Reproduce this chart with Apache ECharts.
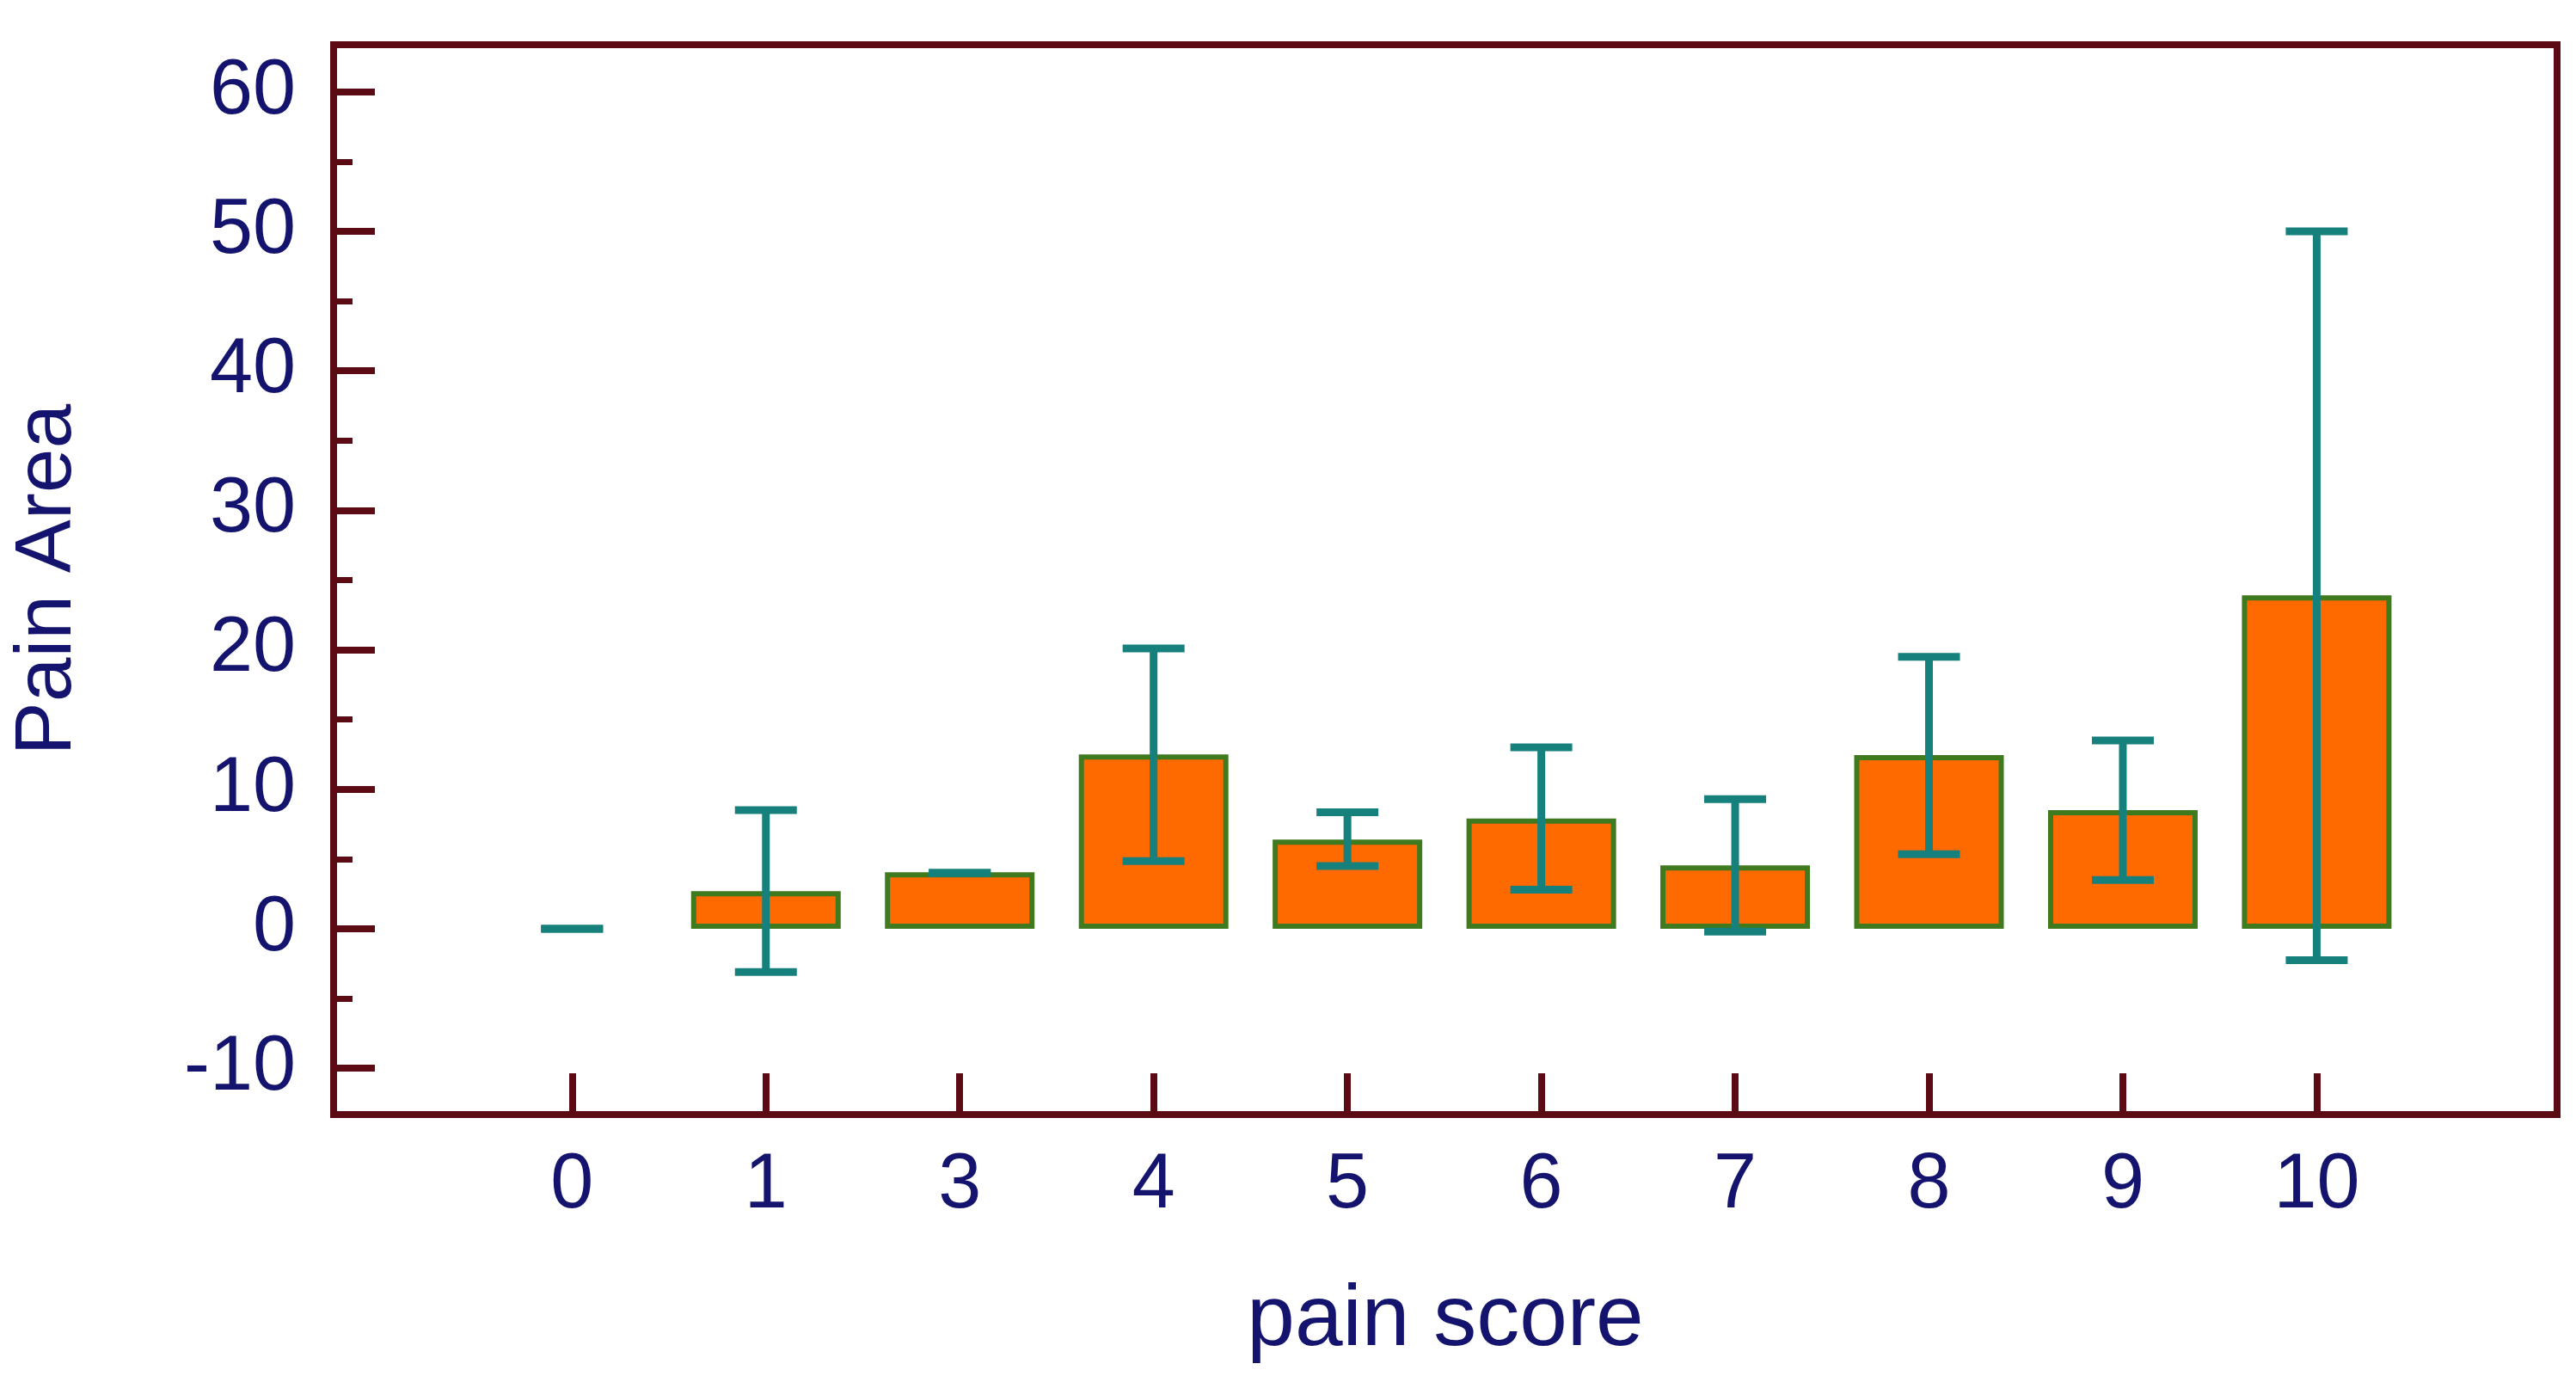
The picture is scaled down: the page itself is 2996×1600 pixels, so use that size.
<!DOCTYPE html>
<html>
<head>
<meta charset="utf-8">
<script src="https://cdn.jsdelivr.net/npm/echarts@6/dist/echarts.min.js"></script>
<style>
html,body{margin:0;padding:0;background:#fff;}
#chart{width:2996px;height:1600px;}
</style>
</head>
<body>
<div id="chart"></div>
<script>
// Data
var categories = ['0', '1', '3', '4', '5', '6', '7', '8', '9', '10'];
var meanValues = [0, 2.7, 4.05, 12.5, 6.4, 7.9, 4.55, 12.45, 8.5, 23.9];
var lowerValues = [0, -3.1, 4.0, 4.85, 4.5, 2.8, -0.2, 5.35, 3.5, -2.25];
var upperValues = [0, 8.5, 4.0, 20.1, 8.35, 13.0, 9.3, 19.5, 13.5, 50.0];
var yMajorTicks = [-10, 0, 10, 20, 30, 40, 50, 60];
var yMinorTicks = [-5, 5, 15, 25, 35, 45, 55];

var axisColor = '#5c0a14';
var textColor = '#14146e';
var fontFamily = 'Liberation Sans, Arial, sans-serif';

var idx = categories.map(function (c, i) { return i; });

var barData = meanValues.map(function (v, i) {
  var item = { value: [i, v] };
  if (v === 0) { item.itemStyle = { borderWidth: 0 }; }
  return item;
});
var errData = categories.map(function (c, i) { return [i, lowerValues[i], upperValues[i]]; });

var chart = echarts.init(document.getElementById('chart'));
chart.setOption({
  backgroundColor: '#ffffff',
  animation: false,
  grid: {
    left: 388, right: 22, top: 52, bottom: 304,
    show: true, borderColor: axisColor, borderWidth: 8, backgroundColor: 'transparent'
  },
  xAxis: {
    type: 'value',
    min: -1.23, max: 10.24,
    name: 'pain score',
    nameLocation: 'middle',
    nameGap: 190,
    nameTextStyle: { color: textColor, fontSize: 100, fontFamily: fontFamily },
    axisLine: { show: true, onZero: false, lineStyle: { color: axisColor, width: 8 } },
    axisTick: { show: true, inside: true, length: 48, customValues: idx, lineStyle: { color: axisColor, width: 8 } },
    axisLabel: {
      show: true, margin: 38, customValues: idx,
      color: textColor, fontSize: 90, fontFamily: fontFamily,
      formatter: function (v) { return categories[Math.round(v)]; }
    },
    splitLine: { show: false }
  },
  yAxis: [{
    type: 'value',
    min: -13.32, max: 63.38,
    name: 'Pain Area',
    nameLocation: 'middle',
    nameGap: 285,
    nameRotate: 90,
    nameTextStyle: { color: textColor, fontSize: 93, fontFamily: fontFamily },
    axisLine: { show: true, onZero: false, lineStyle: { color: axisColor, width: 8 } },
    axisTick: { show: true, inside: true, length: 48, customValues: yMajorTicks, lineStyle: { color: axisColor, width: 8 } },
    axisLabel: { show: true, margin: 44, customValues: yMajorTicks, color: textColor, fontSize: 90, fontFamily: fontFamily },
    splitLine: { show: false }
  }, {
    type: 'value',
    min: -13.32, max: 63.38,
    position: 'left',
    axisLine: { show: false, onZero: false },
    axisTick: { show: true, inside: true, length: 22, customValues: yMinorTicks, lineStyle: { color: axisColor, width: 7 } },
    axisLabel: { show: false },
    splitLine: { show: false }
  }],
  series: [{
    type: 'bar',
    data: barData,
    barWidth: 174,
    itemStyle: { color: '#ff6a00', borderColor: '#3f7a1e', borderWidth: 6 },
    z: 2
  }, {
    type: 'custom',
    data: errData,
    z: 3,
    renderItem: function (params, api) {
      var x = api.value(0);
      var lo = api.coord([x, api.value(1)]);
      var hi = api.coord([x, api.value(2)]);
      var half = 36;
      var style = { stroke: '#16807c', lineWidth: 9 };
      return {
        type: 'group',
        children: [
          { type: 'line', shape: { x1: lo[0], y1: lo[1], x2: hi[0], y2: hi[1] }, style: style },
          { type: 'line', shape: { x1: hi[0] - half, y1: hi[1], x2: hi[0] + half, y2: hi[1] }, style: style },
          { type: 'line', shape: { x1: lo[0] - half, y1: lo[1], x2: lo[0] + half, y2: lo[1] }, style: style }
        ]
      };
    }
  }]
});
</script>
</body>
</html>
